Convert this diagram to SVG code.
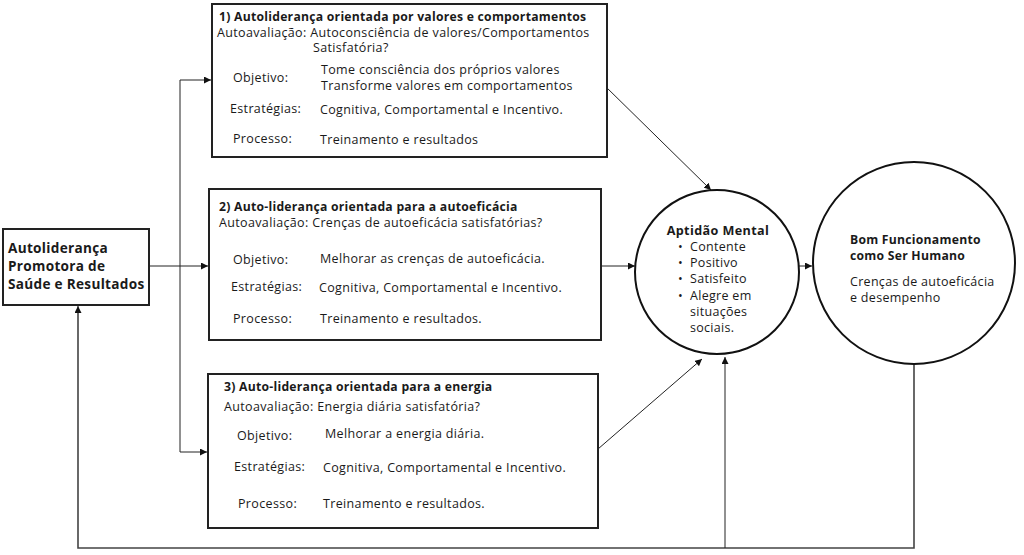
<svg xmlns="http://www.w3.org/2000/svg" width="1024" height="555" viewBox="0 0 1024 555">
<defs>
<marker id="ah" viewBox="0 0 10 10" refX="10" refY="5" markerWidth="7" markerHeight="7" markerUnits="userSpaceOnUse" orient="auto">
<path d="M0,0 L10,5 L0,10 z" fill="#111"/>
</marker>
<style>
text{font-family:"Open Sans","DejaVu Sans",sans-serif;fill:#1a1a1a;font-size:12.5px;letter-spacing:0.35px}
.b{font-weight:bold;font-size:12.2px;letter-spacing:0.25px}
.lb{font-weight:bold;font-size:13.6px;letter-spacing:0.3px}
.cb{font-weight:bold;font-size:12.6px;letter-spacing:0.4px}
.c{font-size:12.5px;letter-spacing:0.3px}
.box{fill:#fff;stroke:#222;stroke-width:2}
.cir{fill:#fff;stroke:#111;stroke-width:2}
.ln{fill:none;stroke:#222;stroke-width:1}
.ar{fill:none;stroke:#222;stroke-width:1;marker-end:url(#ah)}
.fb{fill:none;stroke:#444;stroke-width:1.6}
</style>
</defs>
<rect width="1024" height="555" fill="#fff"/>
<g id="connectors">
<path class="ar" d="M149,266 L208,266"/>
<path class="ln" d="M180,80 L180,452"/>
<path class="ar" d="M180,80 L211,80"/>
<path class="ar" d="M180,452 L207,452"/>
<path class="ar" d="M604,85 L711,190"/>
<path class="ar" d="M601,266 L635,266"/>
<path class="ar" d="M598,449 L702,359"/>
<path class="ar" d="M799,266 L812,266"/>
<path class="fb" d="M914,364 L914,548 L78,548 L78,312"/>
<path class="ar" d="M78,312 L78,306"/>
<path class="ar" d="M725,548 L725,357"/>
</g>
<g id="node-left">
<rect class="box" x="3" y="229" width="146" height="76"/>
<text class="lb" x="8" y="253">Autoliderança</text>
<text class="lb" x="8" y="271">Promotora de</text>
<text class="lb" x="8" y="289">Saúde e Resultados</text>
</g>
<g id="node-box1">
<rect class="box" x="212" y="4" width="395" height="153"/>
<text class="b" x="219" y="21">1) Autoliderança orientada por valores e comportamentos</text>
<text x="217" y="37">Autoavaliação: Autoconsciência de valores/Comportamentos</text>
<text x="313" y="52">Satisfatória?</text>
<text x="233" y="82">Objetivo:</text>
<text x="321" y="74">Tome consciência dos próprios valores</text>
<text x="321" y="90">Transforme valores em comportamentos</text>
<text x="230" y="113">Estratégias:</text>
<text x="320" y="114">Cognitiva, Comportamental e Incentivo.</text>
<text x="233" y="143">Processo:</text>
<text x="320" y="144">Treinamento e resultados</text>
</g>
<g id="node-box2">
<rect class="box" x="209" y="189" width="392" height="151"/>
<text class="b" x="219" y="211">2) Auto-liderança orientada para a autoeficácia</text>
<text x="219" y="227">Autoavaliação: Crenças de autoeficácia satisfatórias?</text>
<text x="233" y="264">Objetivo:</text>
<text x="320" y="263">Melhorar as crenças de autoeficácia.</text>
<text x="231" y="291">Estratégias:</text>
<text x="319" y="292">Cognitiva, Comportamental e Incentivo.</text>
<text x="233" y="323">Processo:</text>
<text x="320" y="323">Treinamento e resultados.</text>
</g>
<g id="node-box3">
<rect class="box" x="208" y="374" width="390" height="154"/>
<text class="b" x="224" y="391">3) Auto-liderança orientada para a energia</text>
<text x="224" y="411">Autoavaliação: Energia diária satisfatória?</text>
<text x="237" y="440">Objetivo:</text>
<text x="325" y="438">Melhorar a energia diária.</text>
<text x="234" y="471">Estratégias:</text>
<text x="323" y="472">Cognitiva, Comportamental e Incentivo.</text>
<text x="238" y="508">Processo:</text>
<text x="323" y="508">Treinamento e resultados.</text>
</g>
<g id="node-aptidao">
<circle class="cir" cx="717" cy="272" r="82"/>
<text class="cb" x="718" y="235" text-anchor="middle">Aptidão Mental</text>
<text class="c" x="678" y="251">•</text><text class="c" x="690" y="251">Contente</text>
<text class="c" x="678" y="267">•</text><text class="c" x="690" y="267">Positivo</text>
<text class="c" x="678" y="283">•</text><text class="c" x="690" y="283">Satisfeito</text>
<text class="c" x="678" y="300">•</text><text class="c" x="690" y="300">Alegre em</text>
<text class="c" x="690" y="316">situações</text>
<text class="c" x="690" y="332">sociais.</text>
</g>
<g id="node-bom">
<circle class="cir" cx="914" cy="263" r="101"/>
<text class="b" x="850" y="244">Bom Funcionamento</text>
<text class="b" x="850" y="260">como Ser Humano</text>
<text class="c" x="850" y="286">Crenças de autoeficácia</text>
<text class="c" x="850" y="302">e desempenho</text>
</g>
</svg>
